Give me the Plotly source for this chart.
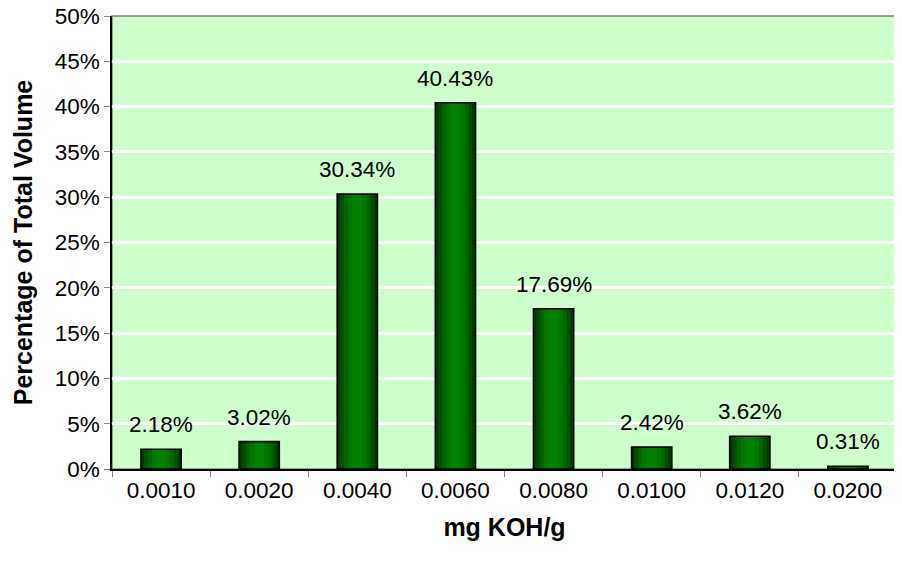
import plotly.graph_objects as go

categories = ["0.0010", "0.0020", "0.0040", "0.0060", "0.0080", "0.0100", "0.0120", "0.0200"]
values = [0.0218, 0.0302, 0.3034, 0.4043, 0.1769, 0.0242, 0.0362, 0.0031]
y_ticks = [0, 0.05, 0.10, 0.15, 0.20, 0.25, 0.30, 0.35, 0.40, 0.45, 0.50]
y_tick_labels = ["0%", "5%", "10%", "15%", "20%", "25%", "30%", "35%", "40%", "45%", "50%"]
value_labels = [f"{v*100:.2f}%" for v in values]

font_family = "Liberation Sans, Arial, sans-serif"

fig = go.Figure()

layers = [
    (0.41, "#003800"),
    (0.35, "#005000"),
    (0.27, "#006600"),
    (0.19, "#007600"),
    (0.10, "#008000"),
]
for w, c in layers:
    fig.add_trace(go.Bar(
        x=categories, y=values, width=w,
        marker=dict(color=c, line=dict(width=0)),
        textposition="none", hoverinfo="skip", showlegend=False,
    ))
# outline on top
fig.add_trace(go.Bar(
    x=categories, y=values, width=0.41,
    marker=dict(color="rgba(0,0,0,0)", line=dict(color="black", width=1.6)),
    showlegend=False, textposition="none",
))

for i, (v, t) in enumerate(zip(values, value_labels)):
    fig.add_annotation(x=i, y=v, xref="x", yref="y", text=t, showarrow=False,
                       xanchor="center", yanchor="bottom", yshift=10,
                       font=dict(family=font_family, size=22.5, color="black"))

fig.update_layout(
    width=894, height=553,
    barmode="overlay",
    paper_bgcolor="white",
    plot_bgcolor="#CCFFCC",
    margin=dict(l=104, r=5, t=8, b=92, autoexpand=False),
    font=dict(family=font_family, size=22.5, color="black"),
    shapes=[dict(type="rect", xref="paper", yref="paper", x0=0, x1=1, y0=0, y1=1,
                 line=dict(color="#808080", width=1.5), layer="below")],
)
fig.update_xaxes(
    type="category",
    tickson="boundaries",
    ticks="outside", ticklen=6, tickcolor="#808080",
    showline=True, linecolor="black", linewidth=1.5,
    showgrid=False,
    tickfont=dict(size=22.5),
    ticklabeloverflow="allow",
    title=dict(text="<b>mg KOH/g</b>", font=dict(size=25), standoff=17),
    automargin=False,
)
fig.update_yaxes(
    range=[0, 0.50001],
    tickvals=y_ticks, ticktext=y_tick_labels,
    ticks="outside", ticklen=6, tickcolor="#808080",
    showline=True, linecolor="black", linewidth=1.5,
    showgrid=True, gridcolor="white", gridwidth=2.5,
    zeroline=False,
    tickfont=dict(size=22.5),
    ticklabeloverflow="allow",
    title=dict(text="<b>Percentage of Total Volume</b>", font=dict(size=25), standoff=15),
    automargin=False,
)

fig.write_html("out.html")
